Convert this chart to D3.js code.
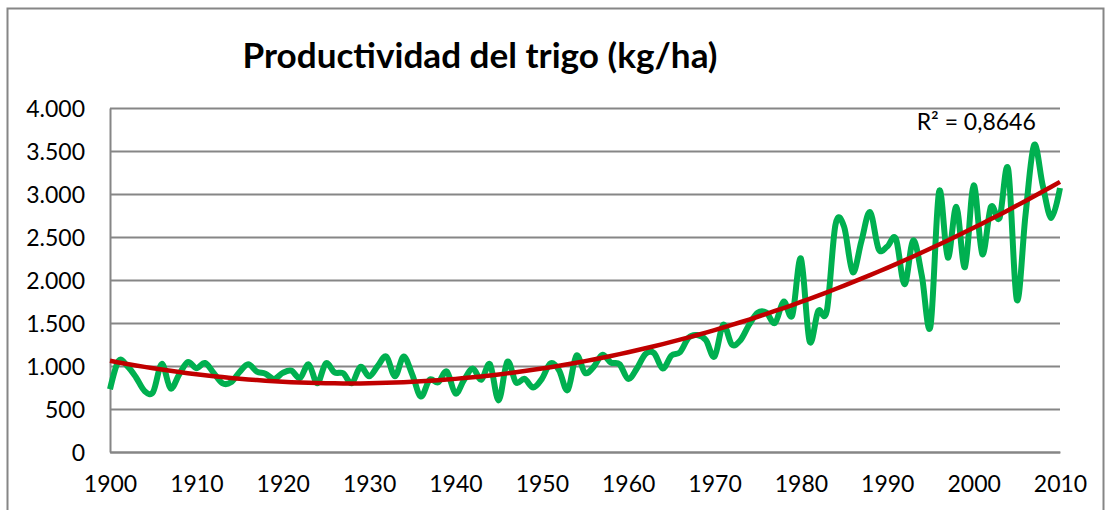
<!DOCTYPE html>
<html>
<head>
<meta charset="utf-8">
<script src="https://cdn.jsdelivr.net/npm/d3@7"></script>
<style>
    body { margin: 0; background: #fff; }
    text { font-family: Lato, "Open Sans", sans-serif; fill: #000; }
</style>
</head>
<body>
<svg id="chart"></svg>
<script>
// yearly wheat yield, kg/ha
let years = d3.range(1900, 2011);
let yields = [
    730, 1060, 1000, 870, 710, 700, 1025, 740, 900, 1045,
    975, 1035, 920, 800, 810, 930, 1020, 935, 910, 850,
    920, 945, 860, 1020, 800, 1030, 925, 915, 800, 990,
    880, 1000, 1110, 880, 1110, 900, 645, 840, 810, 935,
    680, 840, 970, 840, 1020, 600, 1050, 810, 850, 750,
    850, 1030, 950, 720, 1120, 920, 990, 1130, 1040, 1020,
    850, 970, 1140, 1150, 970, 1120, 1160, 1330, 1360, 1300,
    1110, 1480, 1250, 1300, 1480, 1620, 1620, 1500, 1750, 1590,
    2250, 1290, 1640, 1640, 2640, 2620, 2090, 2450, 2790, 2360,
    2390, 2480, 1950, 2460, 2050, 1460, 3030, 2260, 2850, 2150,
    3100, 2300, 2850, 2720, 3290, 1770, 2750, 3570, 3100, 2720,
    3070
];
let yTicks = [0, 500, 1000, 1500, 2000, 2500, 3000, 3500, 4000];
let xTicks = [1900, 1910, 1920, 1930, 1940, 1950, 1960, 1970, 1980, 1990, 2000, 2010];
let titleText = 'Productividad del trigo (kg/ha)';
let r2Text = 'R² = 0,8646';

let width = 1110;
let height = 510;
let margin = { top: 108, bot: 58, left: 110, right: 50 };
let config = {
    margin: margin,
    bodyWidth: width - margin.left - margin.right,
    bodyHeight: height - margin.top - margin.bot,
    width: width,
    height: height
};

let esLocale = d3.formatLocale({ decimal: ',', thousands: '.', grouping: [3], currency: ['', ' €'] });
let fmt = esLocale.format(',d');

let svg = d3.select('#chart')
    .attr('width', width)
    .attr('height', height);

// chart area border
svg.append('rect')
    .attr('x', 7.5)
    .attr('y', 8.5)
    .attr('width', 1096)
    .attr('height', 520)
    .attr('fill', 'none')
    .attr('stroke', '#868686')
    .attr('stroke-width', 2);

let xScale = d3.scaleLinear()
    .domain([1900, 2010])
    .range([0, config.bodyWidth]);
let yScale = d3.scaleLinear()
    .domain([0, 4000])
    .range([config.bodyHeight, 0]);

let body = svg.append('g')
    .attr('transform', `translate(${margin.left},${margin.top})`);

// gridlines
body.append('g')
    .attr('class', 'grid')
    .call(d3.axisLeft(yScale).tickValues(yTicks).tickSize(-config.bodyWidth).tickFormat(''))
    .call(g => g.select('.domain').remove())
    .call(g => g.selectAll('line').attr('stroke', '#868686').attr('stroke-width', 2));

// y axis
body.append('g')
    .call(d3.axisLeft(yScale).tickValues(yTicks).tickSize(0).tickPadding(25).tickFormat(fmt))
    .call(g => g.select('.domain').attr('stroke', '#868686').attr('stroke-width', 2))
    .call(g => g.selectAll('text').attr('font-size', 23).attr('dy', '0.36em'));

// x axis
body.append('g')
    .attr('transform', `translate(0,${config.bodyHeight})`)
    .call(d3.axisBottom(xScale).tickValues(xTicks).tickSize(0).tickPadding(24).tickFormat(d3.format('d')))
    .call(g => g.select('.domain').attr('stroke', '#868686').attr('stroke-width', 2))
    .call(g => g.selectAll('text').attr('font-size', 23));

let data = years.map((y, i) => ({ year: y, value: yields[i] }));

// green series, smoothed like the spreadsheet line
let line = d3.line()
    .x(d => xScale(d.year))
    .y(d => yScale(d.value))
    .curve(d3.curveCardinal.tension(0));

body.append('path')
    .datum(data)
    .attr('fill', 'none')
    .attr('stroke', '#00b050')
    .attr('stroke-width', 6)
    .attr('stroke-linejoin', 'round')
    .attr('d', line);

// order 2 polynomial trend, least squares
function polyFit(pts) {
    let s = [0, 0, 0, 0, 0], t = [0, 0, 0];
    for (let p of pts) {
        let x = p.year - 1900;
        for (let k = 0; k < 5; k++) s[k] += Math.pow(x, k);
        for (let k = 0; k < 3; k++) t[k] += p.value * Math.pow(x, k);
    }
    let m = [[s[0], s[1], s[2], t[0]], [s[1], s[2], s[3], t[1]], [s[2], s[3], s[4], t[2]]];
    for (let i = 0; i < 3; i++) {
        for (let j = i + 1; j < 3; j++) {
            let f = m[j][i] / m[i][i];
            for (let k = i; k < 4; k++) m[j][k] -= f * m[i][k];
        }
    }
    let c = [0, 0, 0];
    for (let i = 2; i >= 0; i--) {
        let v = m[i][3];
        for (let k = i + 1; k < 3; k++) v -= m[i][k] * c[k];
        c[i] = v / m[i][i];
    }
    return c;
}
let coef = polyFit(data);
let trend = years.map(y => {
    let x = y - 1900;
    return { year: y, value: coef[0] + coef[1] * x + coef[2] * x * x };
});

body.append('path')
    .datum(trend)
    .attr('fill', 'none')
    .attr('stroke', '#c00000')
    .attr('stroke-width', 4.5)
    .attr('d', d3.line().x(d => xScale(d.year)).y(d => yScale(d.value)));

body.append('text')
    .attr('x', xScale(2000.3))
    .attr('y', yScale(3840))
    .attr('font-size', 23)
    .attr('dy', '0.36em')
    .style('text-anchor', 'middle')
    .text(r2Text);

// title, sized to the span it takes in the picture
let title = svg.append('text')
    .attr('x', 480)
    .attr('y', 68)
    .attr('font-size', 30)
    .attr('font-weight', 'bold')
    .style('text-anchor', 'middle')
    .text(titleText);
let tw = title.node().getComputedTextLength();
title.attr('font-size', 30 * 475 / tw);
</script>
</body>
</html>
